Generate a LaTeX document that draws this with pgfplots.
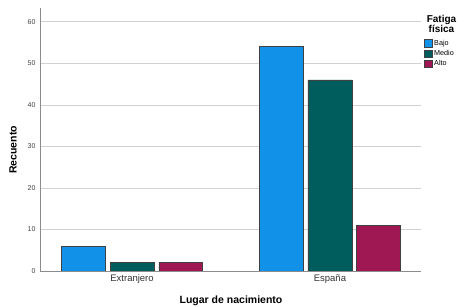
\documentclass[border=0pt]{standalone}
\usepackage{pgfplots}
\pgfplotsset{compat=1.18}
\usepackage{fontspec}
\setmainfont{Liberation Sans}
\definecolor{cBajo}{HTML}{1192E8}
\definecolor{cMedio}{HTML}{005D5D}
\definecolor{cAlto}{HTML}{9F1853}
\begin{document}
\begin{tikzpicture}[x=1pt,y=1pt]
\path[use as bounding box] (0,0) rectangle (459,307);
\begin{axis}[
  at={(40pt,36pt)}, anchor=south west,
  scale only axis, width=381pt, height=263pt,
  xmin=-0.465, xmax=1.46, ymin=0, ymax=63.3,
  xtick={0,1}, xticklabels={Extranjero,España},
  ytick={0,10,...,60},
  ymajorgrids, grid style={color=black!18, line width=0.6pt},
  axis x line*=bottom, axis y line*=left,
  axis line style={color=black!45, line width=0.6pt, -},
  major tick length=0pt,
  yticklabel style={font=\fontsize{7}{8}\selectfont, color=black!75, xshift=-1pt},
  xticklabel style={font=\fontsize{9.5}{10}\selectfont, color=black!80, yshift=-0.5pt},
  /pgf/number format/assume math mode=true,
  legend style={at={(1.008,0.886)}, anchor=north west, draw=none, fill=none,
    font=\fontsize{7.2}{8}\selectfont, row sep=-0.6pt, inner sep=0pt},
  legend cell align=left,
  legend image code/.code={\draw[#1] (0pt,-3.8pt) rectangle (7.5pt,3.8pt);},
]
\addplot[ybar, bar width=0.222, bar shift=-0.246, fill=cBajo, draw=black!75, line width=0.5pt] coordinates {(0,6) (1,54)};
\addplot[ybar, bar width=0.222, bar shift=0, fill=cMedio, draw=black!75, line width=0.5pt] coordinates {(0,2) (1,46)};
\addplot[ybar, bar width=0.222, bar shift=0.246, fill=cAlto, draw=black!75, line width=0.5pt] coordinates {(0,2) (1,11)};
\legend{Bajo,Medio,Alto}
\end{axis}
\node[font=\bfseries\fontsize{10.5}{12}\selectfont, rotate=90] at (13,157) {Recuento};
\node[font=\bfseries\fontsize{10.5}{12}\selectfont] at (231,6) {Lugar de nacimiento};
\node[font=\bfseries\fontsize{10}{10.5}\selectfont, align=center] at (441.5,283) {Fatiga\\física};
\end{tikzpicture}
\end{document}
